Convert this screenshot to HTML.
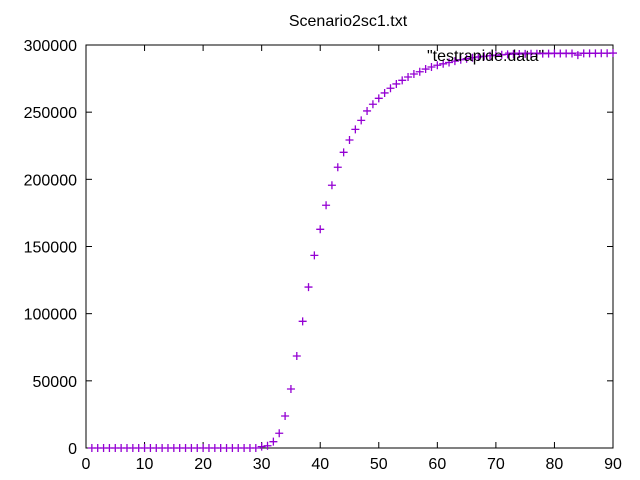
<!DOCTYPE html>
<html><head><meta charset="utf-8"><style>
body{margin:0;background:#fff}
svg{display:block;font-family:"Liberation Sans",sans-serif}
</style></head><body>
<svg id="chart" width="640" height="480">
<text x="348" y="26" font-size="16" text-anchor="middle">Scenario2sc1.txt</text>
<g id="axes"></g>
<g id="marks"></g>
<text x="427" y="61" font-size="16">"testrapide.data"</text>
<line x1="505" y1="53" x2="613" y2="53" stroke="#9400d3" stroke-width="1"/>
</svg>
<script>
const xTicks=[0,10,20,30,40,50,60,70,80,90];
const yTicks=[0,50000,100000,150000,200000,250000,300000];
const xs=[];for(let i=1;i<=90;i++)xs.push(i);
const ys=[0,0,0,0,0,0,0,0,0,0,0,0,0,0,0,0,0,0,0,0,0,0,0,0,0,0,0,0,0,1000,1700,4700,11000,23800,43900,68500,94300,119800,143400,162800,180700,195600,209000,220100,229300,237200,243900,250900,255900,260300,264300,267800,271000,273700,276200,278400,280100,282100,283600,284900,286000,287000,288000,289000,289800,290500,291100,291600,292000,292400,292700,293000,293200,293300,293400,293500,293500,293600,293600,293700,293700,293700,293700,292500,293800,293800,293800,293900,293900,294000];
const L=86,R=613,T=45,B=448;
const sx=v=>L+(v-0)/90*(R-L);
const sy=v=>B-(v/300000)*(B-T);
const NS="http://www.w3.org/2000/svg";
const ax=document.getElementById('axes'),mk=document.getElementById('marks');
function mkEl(t,a,p){const e=document.createElementNS(NS,t);for(const k in a)e.setAttribute(k,a[k]);p.appendChild(e);return e;}
const fr=mkEl('rect',{x:L,y:T,width:R-L,height:B-T,fill:'none',stroke:'#000','stroke-width':1},ax);


xTicks.forEach(v=>{const x=sx(v);
const a=mkEl('line',{x1:x,y1:B,x2:x,y2:B-6,stroke:'#000'},ax);


const b=mkEl('line',{x1:x,y1:T,x2:x,y2:T+6,stroke:'#000'},ax);


const t=mkEl('text',{x:x,y:B+21,'font-size':16,'text-anchor':'middle'},ax);t.textContent=v;

});
yTicks.forEach(v=>{const y=sy(v);
const a=mkEl('line',{x1:L,y1:y,x2:L+6,y2:y,stroke:'#000'},ax);


const b=mkEl('line',{x1:R,y1:y,x2:R-6,y2:y,stroke:'#000'},ax);


const t=mkEl('text',{x:L-9,y:y+6,'font-size':16,'text-anchor':'end'},ax);t.textContent=v;

});
xs.forEach((xv,i)=>{const x=sx(xv),y=sy(ys[i]);
const p=mkEl('path',{d:`M${x-4},${y}H${x+4}M${x},${y-4}V${y+4}`,stroke:'#9400d3','stroke-width':1.3,fill:'none'},mk);

});
</script>
</body></html>
